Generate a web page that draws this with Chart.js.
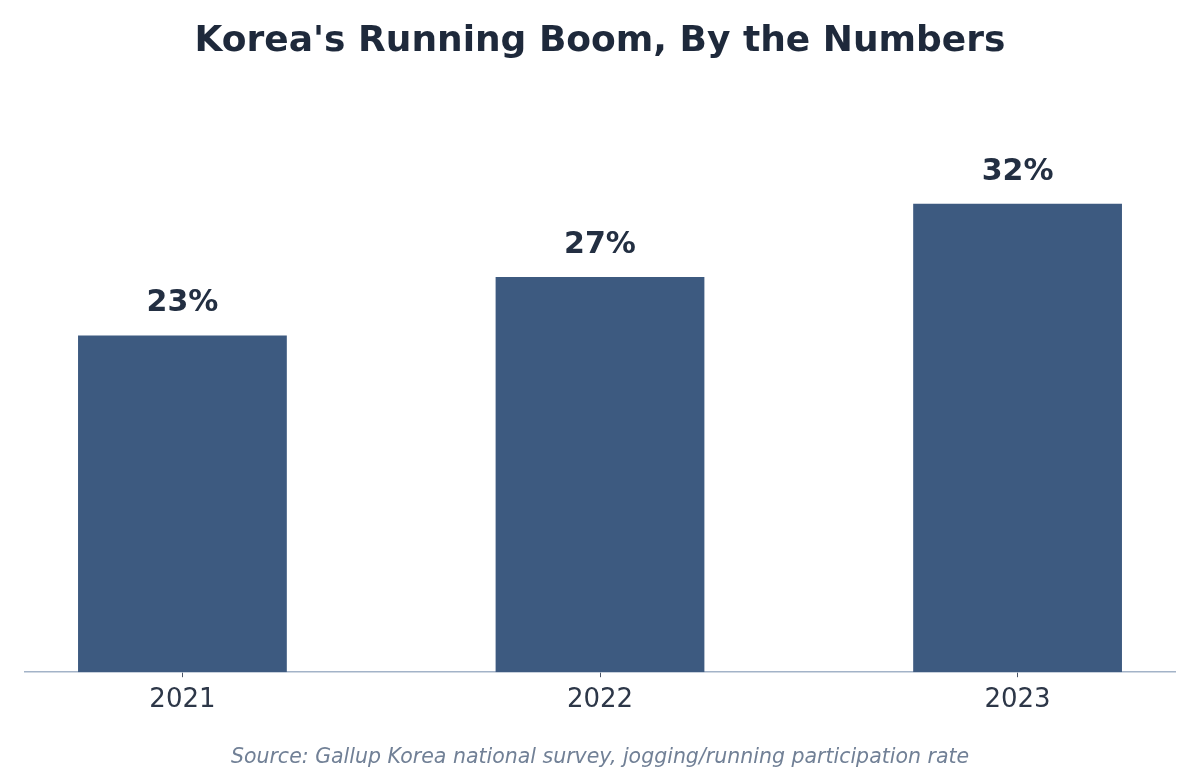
<!DOCTYPE html>
<html>
<head>
<meta charset="utf-8">
<script src="https://cdn.jsdelivr.net/npm/chart.js@4"></script>
<style>
  html, body { margin: 0; padding: 0; background: #fff; }
  #wrap { width: 1200px; height: 771px; }
</style>
</head>
<body>
<div id="wrap"><canvas id="myChart"></canvas></div>
<script>
const years = ["2021", "2022", "2023"];
const rates = [23, 27, 32];
const yMax = 36;

const barLabels = {
  id: "barLabels",
  afterDatasetsDraw(chart) {
    const c = chart.ctx;
    const meta = chart.getDatasetMeta(0);
    c.save();
    c.font = "bold 30px 'DejaVu Sans', sans-serif";
    c.fillStyle = "#232f42";
    c.textAlign = "center";
    c.textBaseline = "middle";
    meta.data.forEach((bar, i) => {
      c.fillText(rates[i] + "%", bar.x, bar.y - 32);
    });
    c.restore();
  },
};

const ctx = document.getElementById("myChart");

new Chart(ctx, {
  type: "bar",
  data: {
    datasets: [
      {
        data: rates.map((v, i) => ({ x: i, y: v })),
        backgroundColor: "#3d5a80",
        borderWidth: 0,
        barPercentage: 0.5,
        categoryPercentage: 1,
      },
    ],
  },
  options: {
    responsive: true,
    maintainAspectRatio: false,
    animation: false,
    layout: { padding: { left: 25, right: 25, top: 0, bottom: 0 } },
    scales: {
      x: {
        type: "linear",
        offset: false,
        min: -0.377,
        max: 2.377,
        afterBuildTicks: function (axis) {
          axis.ticks = years.map((y, i) => ({ value: i }));
        },
        ticks: {
          callback: function (value) {
            return years[value];
          },
          font: { size: 26, family: "'DejaVu Sans', sans-serif" },
          color: "#2d3748",
          padding: 7,
          maxRotation: 0,
        },
        grid: {
          offset: false,
          drawOnChartArea: false,
          tickLength: 5,
          tickColor: "#4a5568",
          tickWidth: 1,
        },
        border: { color: "#a3b3c8", width: 1.5 },
      },
      y: {
        display: false,
        min: 0,
        max: yMax,
      },
    },
    plugins: {
      legend: { display: false },
      tooltip: { enabled: false },
      title: {
        display: true,
        text: "Korea's Running Boom, By the Numbers",
        font: { size: 36, weight: "bold", family: "'DejaVu Sans', sans-serif" },
        color: "#1e293b",
        padding: { top: 20, bottom: 82 },
      },
      subtitle: {
        display: true,
        position: "bottom",
        text: "Source: Gallup Korea national survey, jogging/running participation rate",
        font: { size: 20.5, style: "italic", family: "'DejaVu Sans', sans-serif" },
        color: "#718096",
        padding: { top: 23, bottom: 1 },
      },
    },
  },
  plugins: [barLabels],
});
</script>
</body>
</html>
